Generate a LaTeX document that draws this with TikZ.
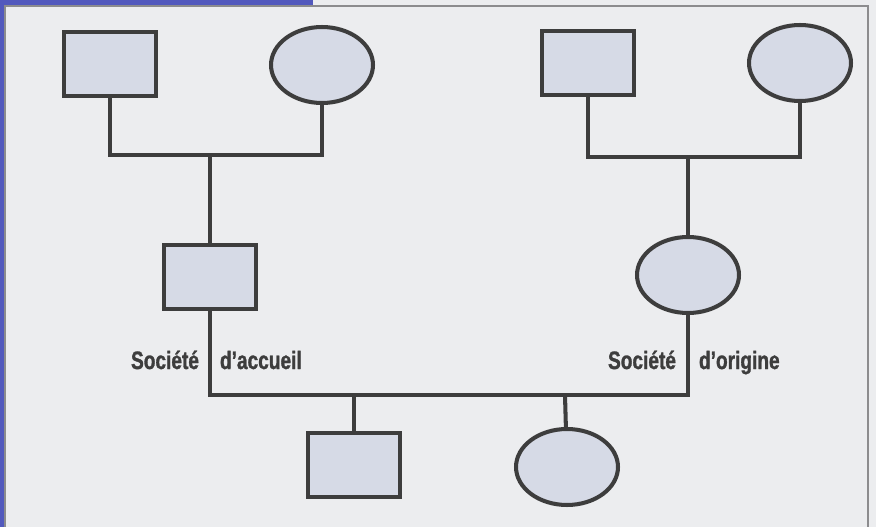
\documentclass[tikz,border=0pt]{standalone}
\usepackage{fontspec}
\newfontfamily\labelfont[FakeStretch=0.76,FakeBold=1.2]{Liberation Sans}
\usetikzlibrary{positioning,shapes.geometric}

\definecolor{paper}{HTML}{ECEDEF}
\definecolor{barblue}{HTML}{5259BD}
\definecolor{framegray}{HTML}{8C8C8E}
\definecolor{shapefill}{HTML}{D6DAE6}
\definecolor{ink}{HTML}{3D3D3D}

\begin{document}
\begin{tikzpicture}[x=0.02cm,y=-0.02cm,line width=2.3pt,draw=ink,
                    homme/.style={rectangle,draw=ink,fill=shapefill,line width=2.3pt,
                                  minimum width=1.84cm,minimum height=1.28cm},
                    femme/.style={ellipse,draw=ink,fill=shapefill,line width=2.3pt,
                                  minimum width=2.04cm,minimum height=1.52cm},
                    societe/.style={inner sep=0pt,text=ink,font=\labelfont\bfseries\fontsize{14.3}{16}\selectfont}]

  \useasboundingbox (0,0) rectangle (876,527);
  \fill[paper] (0,0) rectangle (876,527);
  \fill[barblue] (0,0) rectangle (313,5);
  \fill[barblue] (0,0) rectangle (4,527);
  \draw[framegray,line width=0.8pt] (5,527) -- (5,6) -- (868,6) -- (868,527);

  % grands-parents
  \node[homme] (0) at (110,64) {};
  \node[femme] (1) at (322,65) {};
  \node[homme] (3) at (588,63) {};
  \node[femme] (4) at (800,63) {};

  % parents
  \node[homme] (2) at (210,277) {};
  \node[femme] (5) at (688,275) {};

  % enfants
  \node[homme] (6) at (354,465) {};
  \node[femme] (7) at (567,467) {};

  \coordinate (c1) at (210,155);
  \coordinate (c2) at (688,157);
  \coordinate (c3) at (354,395);
  \coordinate (c4) at (565,395);

  \draw[ink] (0) |- (c1) -| (1);
  \draw[ink] (c1) -- (2);
  \draw[ink] (3) |- (c2) -| (4);
  \draw[ink] (c2) -- (5);
  \draw[ink] (2) |- (c3) -| (5);
  \draw[ink] (c3) -- (6);
  \draw[ink] (c4) -- (7);

  \node[societe,anchor=base east] (sa) at (201,369) {Société};
  \node[societe,anchor=base west] (da) at (218,369) {d’accueil};
  \node[societe,anchor=base east] (so) at (678,369) {Société};
  \node[societe,anchor=base west] (do) at (697,369) {d’origine};
\end{tikzpicture}
\end{document}
